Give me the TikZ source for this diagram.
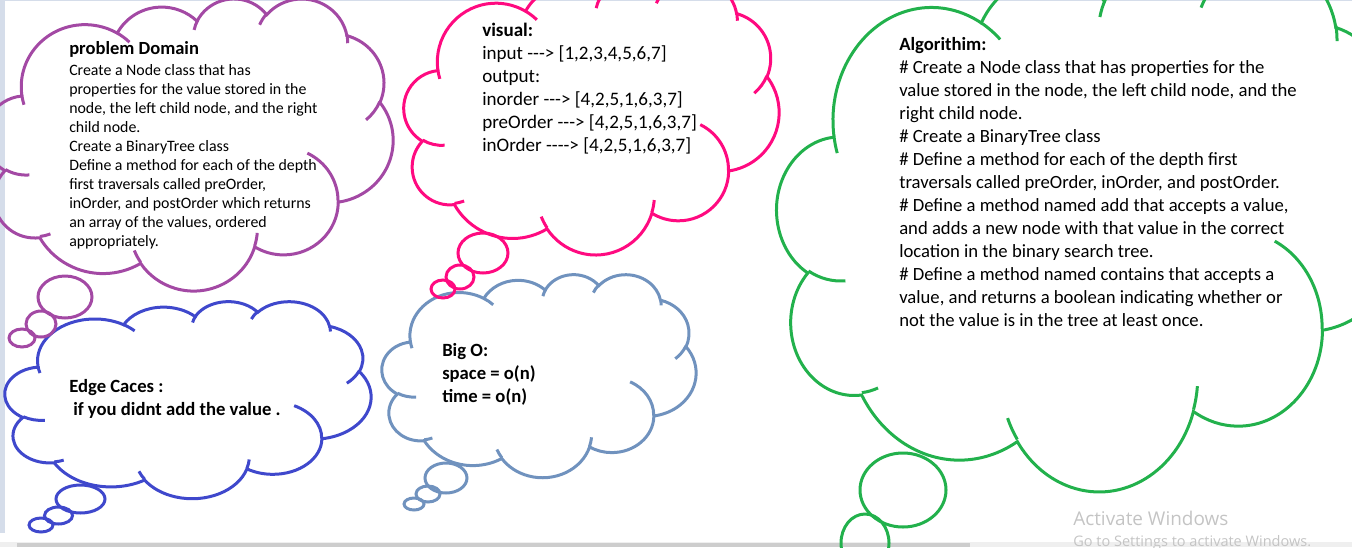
\documentclass[tikz,border=0pt]{standalone}
\usepackage{fontspec}
\setmainfont{Carlito}[Ligatures=TeXOff]
\newfontfamily\winfont{Open Sans}
\usetikzlibrary{positioning}

\definecolor{domaincol}{HTML}{A349A4}
\definecolor{visualcol}{HTML}{FF0A80}
\definecolor{algocol}{HTML}{22B14C}
\definecolor{edgecol}{HTML}{3F48CC}
\definecolor{bigocol}{HTML}{7092BE}
\definecolor{framecol}{HTML}{D5DDEA}
\definecolor{barcol}{HTML}{CDCDCD}
\definecolor{barlight}{HTML}{EFEFEF}
\definecolor{winmark}{HTML}{C4C4C4}

% one puff of the cloud, angles taken on the ellipse as it is seen
\newcommand{\puff}[4]{arc[x radius=#1, y radius=#2,
  start angle={atan2(#1*sin(#3),#2*cos(#3))},
  delta angle={mod(atan2(#1*sin(#3+#4),#2*cos(#3+#4))-atan2(#1*sin(#3),#2*cos(#3))+720,360)}]}

\tikzset{
  cloudline/.style={line width=2.25pt},
  bubble/.style={line width=2.25pt},
  txt/.style={anchor=base west, inner sep=0pt},
  wordcloud/.pic={
    % outline in a 43.2 x 43.2 frame
    \draw[cloudline] (3.900,14.370)
      \puff{6.753}{9.190}{-190.4875}{123.7805}
      \puff{5.333}{7.267}{-144.1024}{89.9452}
      \puff{4.365}{5.945}{-145.8079}{99.7230}
      \puff{4.857}{6.595}{-130.9861}{117.2417}
      \puff{5.333}{7.273}{-78.7089}{109.0269}
      \puff{6.775}{9.220}{-46.2673}{130.2690}
      \puff{5.785}{7.867}{0.6250}{114.0333}
      \puff{6.752}{9.215}{22.4516}{115.1726}
      \puff{7.720}{10.543}{66.2426}{75.7110}
      \puff{4.360}{5.918}{-274.9421}{146.7356}
      \puff{4.345}{5.945}{-246.8285}{152.5189} -- cycle;
    % inner tails
    \draw[cloudline]
      (4.693,26.177) \puff{4.345}{5.945}{86.7420}{26.4295}
      (6.928,34.899) \puff{4.360}{5.918}{73.6105}{11.4475}
      (16.478,39.090) \puff{6.752}{9.215}{137.6242}{14.0811}
      (28.827,34.751) \puff{6.752}{9.215}{6.4533}{15.9984}
      (34.129,22.954) \puff{5.785}{7.867}{-70.2924}{70.9174}
      (41.798,15.354) \puff{5.333}{7.273}{30.3180}{27.7515}
      (38.324,5.426) \puff{4.857}{6.595}{-13.7443}{14.8589}
      (29.078,3.952) \puff{4.857}{6.595}{-149.1815}{18.1954}
      (22.141,4.720) \puff{4.365}{5.945}{-163.4943}{17.6864}
      (14.000,5.192) \puff{6.753}{9.190}{-66.7070}{12.3194}
      (4.127,15.789) \puff{6.753}{9.190}{157.6544}{11.8582};
  }
}

\begin{document}
\begin{tikzpicture}[x=0.75pt, y=-0.75pt]
\useasboundingbox (0,0) rectangle (1352,547);

% window frame
\fill[framecol] (0,0) rectangle (5,533);
\fill[framecol] (0,0) rectangle (1352,1);
\fill[barlight] (0,542) rectangle (1352,547);
\fill[barcol] (17,543) rectangle (970,547);

% clouds
\pic[domaincol, xscale=408/43.2, yscale=292/43.2] (domaincloud) at (-15,-2) {wordcloud};
\pic[visualcol, xscale=375/43.2, yscale=276/43.2] (visualcloud) at (404,-22) {wordcloud};
\pic[algocol, xscale=630/43.2, yscale=531/43.2] (algocloud) at (777,-41) {wordcloud};
\pic[edgecol, xscale=366/43.2, yscale=197/43.2] (edgecloud) at (5,301) {wordcloud};
\pic[bigocol, xscale=314/43.2, yscale=203/43.2] (bigocloud) at (382,274) {wordcloud};

% bubbles
\foreach \cx/\cy/\rx/\ry in {65/297/27/21, 41/324/15/13, 22/338/13/9}
  \draw[bubble, domaincol] (\cx,\cy) ellipse [x radius=\rx, y radius=\ry];
\foreach \cx/\cy/\rx/\ry in {483/253/25/20, 460/277/14/12, 443/289/12/9}
  \draw[bubble, visualcol] (\cx,\cy) ellipse [x radius=\rx, y radius=\ry];
\foreach \cx/\cy/\rx/\ry in {903/490/43/37, 865/543/24/29}
  \draw[bubble, algocol] (\cx,\cy) ellipse [x radius=\rx, y radius=\ry];
\foreach \cx/\cy/\rx/\ry in {80.5/499/24.5/14, 58.5/515.5/14/8.5, 41/525/12/7}
  \draw[bubble, edgecol] (\cx,\cy) ellipse [x radius=\rx, y radius=\ry];
\foreach \cx/\cy/\rx/\ry in {446/478/21/15, 428/494/12/8, 414/504/10/6}
  \draw[bubble, bigocol] (\cx,\cy) ellipse [x radius=\rx, y radius=\ry];

% problem domain
\node[txt, font=\fontsize{13.9}{16}\selectfont\bfseries] (domain) at (69,54) {problem Domain};
\foreach \l [count=\i] in {Create a Node class that has, properties for the value stored in the,
    {node, the left child node, and the right}, child node., Create a BinaryTree class,
    Define a method for each of the depth, {first traversals called preOrder,},
    {inOrder, and postOrder which returns}, {an array of the values, ordered}, appropriately.}
  \node[txt, font=\fontsize{11.9}{14}\selectfont] (domain-\i) at (69,56+19*\i) {\l};

% visual
\node[txt, font=\fontsize{14.3}{17}\selectfont\bfseries] (visual) at (482,36) {visual:};
\foreach \l [count=\i] in {{input ---> [1,2,3,4,5,6,7]}, output:, {inorder ---> [4,2,5,1,6,3,7]},
    {preOrder ---> [4,2,5,1,6,3,7]}, {inOrder ----> [4,2,5,1,6,3,7]}}
  \node[txt, font=\fontsize{14.3}{17}\selectfont] (visual-\i) at (482,36+23*\i) {\l};

% algorithm
\node[txt, font=\fontsize{14}{17}\selectfont\bfseries] (algo) at (899,50) {Algorithim:};
\foreach \l [count=\i] in {\# Create a Node class that has properties for the,
    {value stored in the node, the left child node, and the}, right child node.,
    \# Create a BinaryTree class, \# Define a method for each of the depth first,
    {traversals called preOrder, inOrder, and postOrder.},
    {\# Define a method named add that accepts a value,},
    and adds a new node with that value in the correct,
    location in the binary search tree., \# Define a method named contains that accepts a,
    {value, and returns a boolean indicating whether or},
    not the value is in the tree at least once.}
  \node[txt, font=\fontsize{14}{17}\selectfont] (algo-\i) at (899,50+23*\i) {\l};

% edge cases
\node[txt, font=\fontsize{14}{17}\selectfont\bfseries] (edge) at (69,392) {Edge Caces :};
\node[txt, font=\fontsize{14}{17}\selectfont\bfseries] (edge-1) at (73,415) {if you didnt add the value .};

% big o
\node[txt, font=\fontsize{14}{17}\selectfont\bfseries] (bigo) at (442,356) {Big O:};
\node[txt, font=\fontsize{14}{17}\selectfont\bfseries] (bigo-1) at (442,379) {space = o(n)};
\node[txt, font=\fontsize{14}{17}\selectfont\bfseries] (bigo-2) at (442,402) {time = o(n)};

% watermark
\node[txt, font=\winfont\fontsize{14.2}{17}\selectfont, text=winmark] (activate) at (1073,525) {Activate Windows};
\node[txt, font=\winfont\fontsize{10.9}{13}\selectfont, text=winmark] (gosettings) at (1073,546) {Go to Settings to activate Windows.};
\end{tikzpicture}
\end{document}
